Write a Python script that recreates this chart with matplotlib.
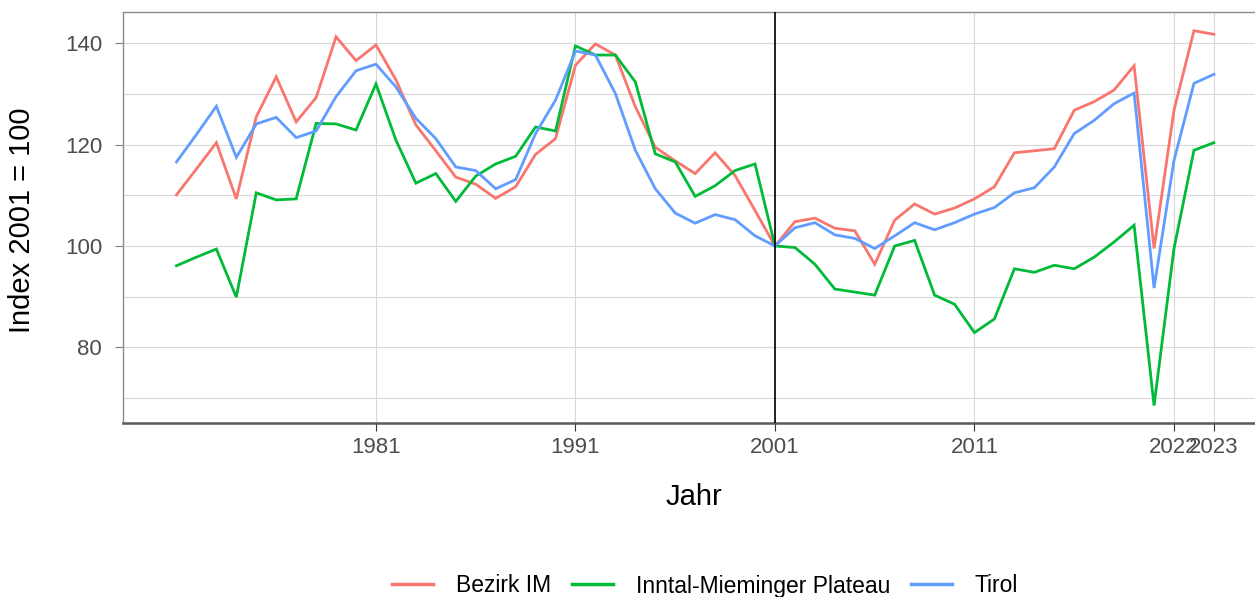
import numpy as np
import matplotlib.pyplot as plt

plt.rcParams['font.family'] = ['Liberation Sans', 'DejaVu Sans']

# Jahre und Indexwerte (2001 = 100)
years = list(range(1971, 2024))

bezirk_im = [110.1, 115.2, 120.4, 109.3, 125.5, 133.4, 124.5, 129.3, 141.3, 136.6,
             139.7, 132.8, 123.9, 118.8, 113.6, 112.2, 109.4, 111.7, 118.1, 121.2,
             135.7, 139.9, 137.7, 127.5, 119.5, 116.8, 114.3, 118.4, 113.9, 107.0,
             100.0, 104.8, 105.5, 103.5, 103.0, 96.4, 105.1, 108.3, 106.3, 107.5,
             109.3, 111.7, 118.4, 118.8, 119.2, 126.8, 128.5, 130.8, 135.6, 99.5,
             126.8, 142.5, 141.8]

inntal = [96.1, 97.8, 99.4, 89.9, 110.5, 109.1, 109.3, 124.2, 124.1, 122.9,
          132.0, 120.9, 112.4, 114.3, 108.8, 113.8, 116.2, 117.7, 123.5, 122.7,
          139.5, 137.7, 137.7, 132.4, 118.2, 116.6, 109.8, 111.9, 114.9, 116.2,
          100.0, 99.7, 96.4, 91.5, 90.9, 90.3, 100.0, 101.1, 90.3, 88.5,
          82.9, 85.6, 95.5, 94.8, 96.2, 95.5, 97.8, 100.8, 104.1, 68.5,
          99.5, 118.9, 120.4]

tirol = [116.6, 122.0, 127.6, 117.5, 124.1, 125.4, 121.4, 122.7, 129.5, 134.6,
         135.9, 131.4, 125.2, 121.2, 115.6, 114.9, 111.3, 113.1, 122.2, 128.8,
         138.5, 137.7, 130.1, 118.9, 111.3, 106.5, 104.5, 106.2, 105.2, 102.0,
         100.0, 103.6, 104.6, 102.2, 101.5, 99.5, 102.0, 104.6, 103.2, 104.6,
         106.3, 107.6, 110.5, 111.5, 115.6, 122.2, 124.8, 128.1, 130.2, 91.7,
         116.9, 132.1, 133.9]

series = ['Bezirk IM', 'Inntal-Mieminger Plateau', 'Tirol']
colors = ['#F8766D', '#00BA38', '#619CFF']

x_ticks = [1981, 1991, 2001, 2011, 2021, 2023]
x_labels = ['1981', '1991', '2001', '2011', '2022', '2023']
y_ticks = [80, 100, 120, 140]
y_minor = [70, 90, 110, 130]

fig = plt.figure(figsize=(12.55, 5.97), dpi=100)
ax = fig.add_axes([123 / 1255, 174 / 597, 1132 / 1255, 411 / 597])

for vals, name, col in zip([bezirk_im, inntal, tirol], series, colors):
    ax.plot(years, vals, color=col, lw=2.0, label=name, solid_joinstyle='miter')

ax.axvline(2001, color='black', lw=1.2, zorder=3)

ax.set_xlim(1968.32, 2025.06)
ax.set_ylim(65.05, 146.2)
ax.set_xticks(x_ticks)
ax.set_xticklabels(x_labels)
ax.set_yticks(y_ticks)
ax.set_yticks(y_minor, minor=True)

ax.grid(True, which='major', color='#d9d9d9', lw=0.8)
ax.grid(True, which='minor', axis='y', color='#d9d9d9', lw=0.8)
ax.set_axisbelow(True)

ax.tick_params(axis='both', which='major', labelsize=16, labelcolor='#4d4d4d',
               length=5.5, width=0.8)
ax.tick_params(axis='x', colors='#333333', labelcolor='#4d4d4d', pad=4.5)
ax.tick_params(axis='y', colors='#7f7f7f', labelcolor='#4d4d4d', pad=9.5)
ax.tick_params(which='minor', length=0)

ax.spines['right'].set_visible(False)
ax.spines['top'].set_color('#8c8c8c')
ax.spines['left'].set_color('#8c8c8c')
ax.spines['top'].set_linewidth(1.0)
ax.spines['left'].set_linewidth(1.0)
ax.spines['bottom'].set_color('#595959')
ax.spines['bottom'].set_linewidth(1.8)

fig.text(694 / 1255, 1 - 497 / 597, 'Jahr', ha='center', va='center', fontsize=21)
fig.text(22 / 1255, 1 - 220 / 597, 'Index 2001 = 100', ha='center', va='center',
         rotation=90, fontsize=21)

leg = fig.legend(loc='center', bbox_to_anchor=(705 / 1255, 1 - 586 / 597), ncol=3,
                 frameon=False, fontsize=16.5, handlelength=1.8, handletextpad=1.0,
                 columnspacing=0.9)
for line in leg.get_lines():
    line.set_linewidth(2.5)

fig.savefig('out.png', dpi=100)
